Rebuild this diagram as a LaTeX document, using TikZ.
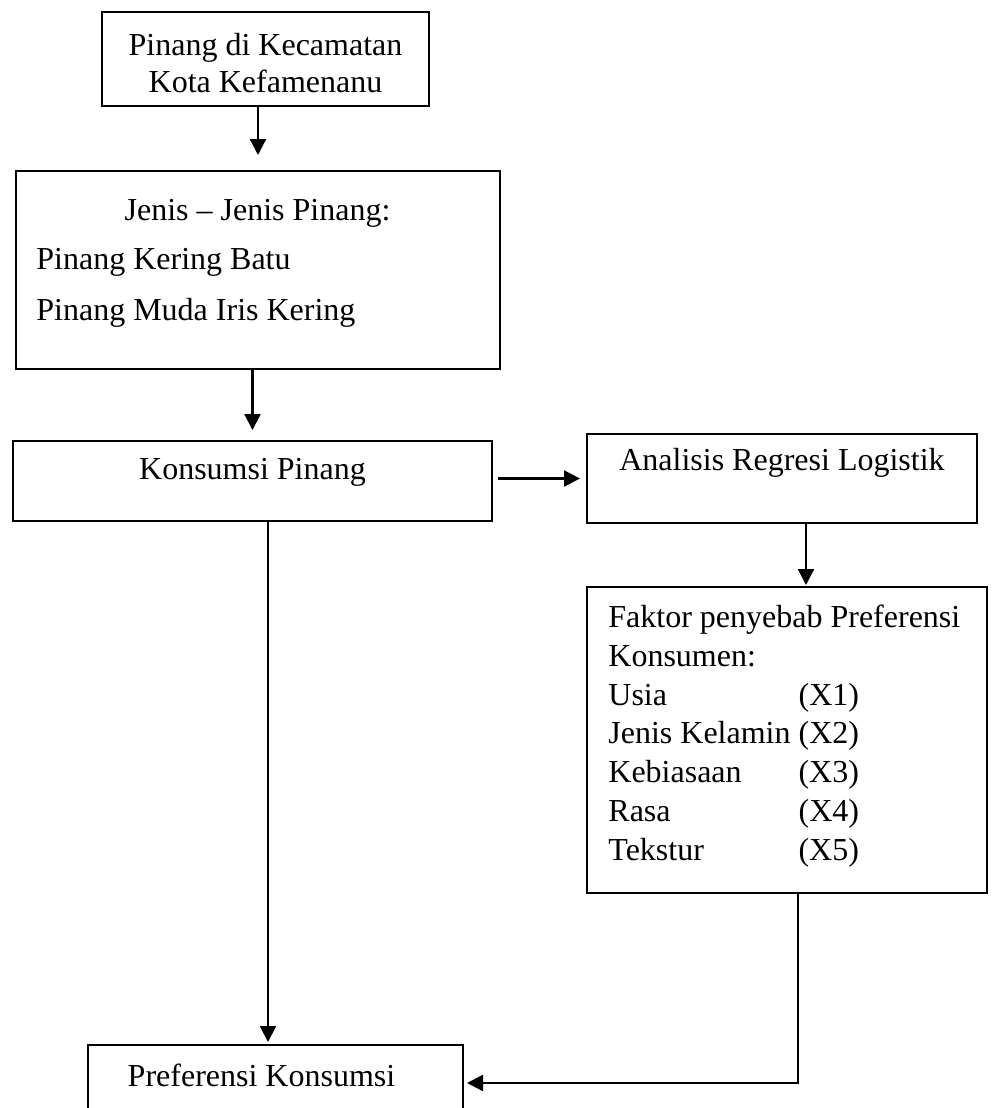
\documentclass[tikz,border=0pt]{standalone}
\usepackage{fontspec}
\setmainfont{Liberation Serif}
\usetikzlibrary{arrows.meta}

\tikzset{
  kotak/.style={draw,line width=1.1pt,inner sep=0pt,outer sep=0pt},
  teks/.style={inner sep=0pt,font=\fontsize{16}{19.4}\selectfont},
  panah/.style={line width=1.1pt,-{Triangle[length=8pt,width=8pt]}}
}

\begin{document}
\begin{tikzpicture}[x=0.5pt,y=-0.5pt]
\useasboundingbox (0,0) rectangle (994,1108);
\clip (0,0) rectangle (994,1108);
\node[kotak,minimum width=163.5pt,minimum height=47pt] (pinang) at (265.5,59) {};
\node[kotak,minimum width=242pt,minimum height=99pt] (jenis) at (258,270) {};
\node[kotak,minimum width=239.5pt,minimum height=40pt] (konsumsi) at (252.5,481) {};
\node[kotak,minimum width=195pt,minimum height=44.5pt] (analisis) at (782,478.5) {};
\node[kotak,minimum width=200pt,minimum height=153pt] (faktor) at (787,740) {};
\node[kotak,minimum width=187.5pt,minimum height=38pt] (preferensi) at (275.5,1083) {};

\node[teks,align=center] (tpinang) at (265.5,63.5) {Pinang di Kecamatan\\[-0.9pt]Kota Kefamenanu};
\node[teks] (tjenis) at (257.5,213) {Jenis -- Jenis Pinang:};
\node[teks,anchor=west] (tbatu) at (36,262) {Pinang Kering Batu};
\node[teks,anchor=west] (tiris) at (36,313) {Pinang Muda Iris Kering};
\node[teks] (tkonsumsi) at (252.5,472) {Konsumsi Pinang};
\node[teks] (tanalisis) at (782,463) {Analisis Regresi Logistik};
\node[teks,anchor=north west] (tfaktor) at (608,600) {%
  \begin{tabular}{@{}l@{ }l@{}}
  \multicolumn{2}{@{}l@{}}{Faktor penyebab Preferensi}\\
  \multicolumn{2}{@{}l@{}}{Konsumen:}\\
  Usia & (X1)\\
  Jenis Kelamin & (X2)\\
  Kebiasaan & (X3)\\
  Rasa & (X4)\\
  Tekstur & (X5)
  \end{tabular}};
\node[teks] (tpreferensi) at (261.5,1075) {Preferensi Konsumsi};

\draw[panah] (pinang.south -| jenis.north) -- ([yshift=8pt]jenis.north);
\draw[panah] (jenis.south -| konsumsi.north) -- ([yshift=5.5pt]konsumsi.north);
\draw[panah] ([xshift=3pt]konsumsi.east |- analisis.west) -- ([xshift=-3.5pt]analisis.west);
\draw[panah] ([xshift=12pt]analisis.south) -- ([xshift=12pt,yshift=1pt]analisis.south |- faktor.north);
\draw[panah] ([xshift=7.75pt]konsumsi.south) -- ([xshift=7.75pt,yshift=1.5pt]konsumsi.south |- preferensi.north);
\draw[panah] ([xshift=5.5pt]faktor.south) |- ([xshift=2pt]preferensi.east);
\end{tikzpicture}
\end{document}
